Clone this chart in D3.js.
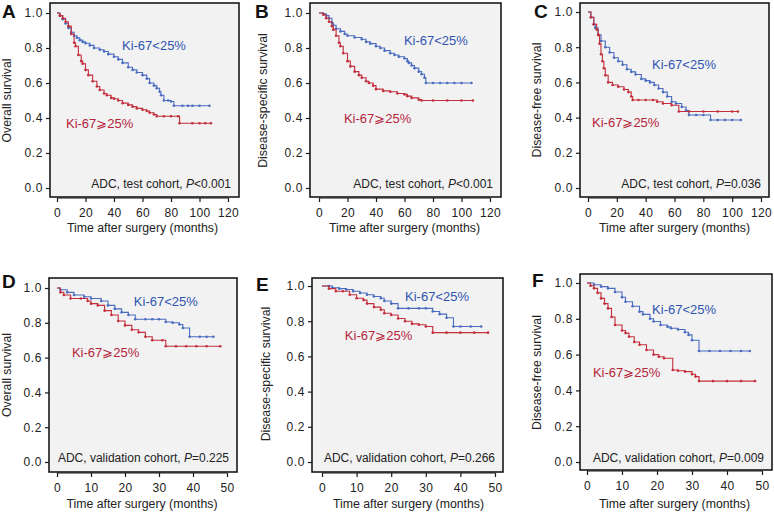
<!DOCTYPE html>
<html><head><meta charset="utf-8">
<script src="https://cdn.jsdelivr.net/npm/d3@7"></script>
<style>
body{margin:0;background:#fff;}
text{font-family:"Liberation Sans",Arial,Helvetica,sans-serif;}
</style></head>
<body><svg id="c" width="774" height="515"></svg>
<script>
// ---------- DATA (time in months, survival probability) ----------
const yTicks = [0, 0.2, 0.4, 0.6, 0.8, 1.0];
const xTicksTest = [0, 20, 40, 60, 80, 100, 120];
const xTicksVal = [0, 10, 20, 30, 40, 50];

const osTestLow = [[0,1],[2,0.985],[4,0.965],[6,0.94],[8,0.915],[10,0.89],[12,0.87],[14,0.858],[16,0.845],[18,0.835],[20,0.827],[23,0.815],[26,0.8],[30,0.79],[33,0.78],[36,0.765],[40,0.75],[43,0.735],[46,0.715],[50,0.69],[53,0.675],[56,0.66],[60,0.645],[63,0.625],[65,0.6],[68,0.585],[70,0.57],[72,0.55],[73,0.53],[75,0.5],[78,0.5],[80,0.494],[82,0.47],[88,0.47],[92,0.47],[95,0.47],[100,0.47],[107,0.47]];
const osTestHigh = [[0,1],[2,0.985],[4,0.97],[6,0.95],[8,0.925],[10,0.88],[12,0.83],[13,0.81],[15,0.76],[17,0.725],[18,0.71],[20,0.675],[22,0.645],[25,0.61],[28,0.58],[30,0.56],[33,0.54],[35,0.53],[38,0.515],[40,0.51],[43,0.5],[46,0.485],[50,0.475],[53,0.465],[56,0.455],[60,0.447],[63,0.44],[65,0.43],[68,0.42],[70,0.41],[75,0.41],[80,0.41],[85,0.41],[86,0.37],[95,0.37],[100,0.37],[104,0.37],[108,0.37]];

const dssTestLow = [[0,1],[3,0.995],[5,0.985],[7,0.97],[9,0.945],[10,0.93],[12,0.91],[15,0.895],[18,0.88],[20,0.87],[25,0.86],[30,0.85],[33,0.835],[36,0.825],[40,0.81],[43,0.8],[46,0.785],[50,0.77],[53,0.76],[56,0.75],[60,0.74],[62,0.725],[63,0.715],[65,0.7],[67,0.685],[70,0.665],[72,0.65],[74,0.63],[75,0.6],[80,0.6],[85,0.6],[90,0.6],[95,0.6],[100,0.6],[107,0.6]];
const dssTestHigh = [[0,1],[3,0.99],[5,0.97],[7,0.95],[9,0.925],[10,0.905],[12,0.87],[14,0.83],[15,0.81],[17,0.77],[20,0.725],[22,0.695],[25,0.665],[28,0.645],[30,0.63],[33,0.61],[35,0.6],[38,0.585],[40,0.565],[45,0.555],[50,0.55],[55,0.54],[60,0.535],[62,0.525],[65,0.515],[70,0.505],[72,0.5],[80,0.5],[90,0.5],[100,0.5],[108,0.5]];

const dfsTestLow = [[0,1],[2,0.97],[4,0.93],[5,0.91],[7,0.87],[9,0.835],[12,0.8],[15,0.77],[18,0.74],[21,0.72],[24,0.7],[27,0.675],[30,0.66],[33,0.645],[37,0.62],[40,0.61],[43,0.6],[46,0.585],[49,0.565],[52,0.545],[55,0.52],[58,0.49],[61,0.48],[65,0.46],[68,0.44],[70,0.415],[75,0.415],[80,0.415],[85,0.386],[90,0.386],[95,0.386],[100,0.386],[106,0.386]];
const dfsTestHigh = [[0,1],[2,0.97],[4,0.93],[6,0.9],[7,0.87],[8,0.82],[9,0.76],[10,0.72],[11,0.68],[12,0.64],[14,0.6],[17,0.585],[21,0.575],[25,0.56],[28,0.545],[30,0.52],[31,0.5],[35,0.5],[40,0.5],[45,0.5],[48,0.49],[52,0.48],[58,0.47],[63,0.435],[70,0.435],[80,0.435],[90,0.435],[100,0.435],[104,0.435]];

const osValLow = [[0,1],[1,0.99],[3,0.975],[5,0.96],[8,0.95],[10,0.94],[13,0.925],[15,0.9],[17,0.88],[19,0.86],[21,0.845],[23,0.82],[26,0.82],[28,0.82],[30,0.82],[32,0.805],[34,0.8],[36,0.79],[37,0.77],[39,0.72],[42,0.72],[44,0.72],[46,0.72]];
const osValHigh = [[0,1],[1,0.975],[2,0.96],[4,0.94],[7,0.94],[9,0.925],[10,0.91],[12,0.9],[14,0.87],[16,0.845],[18,0.81],[20,0.785],[22,0.76],[24,0.745],[26,0.72],[28,0.7],[31,0.7],[32,0.665],[35,0.665],[38,0.665],[41,0.665],[44,0.665],[48,0.665]];

const dssValLow = [[0,1],[2,1],[3,0.99],[5,0.985],[7,0.98],[9,0.97],[11,0.96],[13,0.95],[15,0.94],[17,0.93],[18,0.915],[20,0.9],[22,0.873],[25,0.873],[28,0.873],[30,0.873],[32,0.855],[34,0.84],[36,0.82],[38,0.77],[40,0.77],[43,0.77],[46,0.77]];
const dssValHigh = [[0,1],[2,0.985],[4,0.97],[6,0.97],[8,0.95],[10,0.93],[12,0.92],[13,0.9],[15,0.88],[17,0.865],[18,0.845],[20,0.835],[22,0.815],[24,0.8],[26,0.785],[28,0.78],[30,0.77],[32,0.735],[36,0.735],[40,0.735],[44,0.735],[48,0.735]];

const dfsValLow = [[0,1],[2,0.99],[4,0.98],[6,0.97],[8,0.95],[10,0.92],[11,0.895],[13,0.87],[15,0.84],[16,0.825],[18,0.8],[19,0.785],[21,0.765],[23,0.755],[24,0.747],[26,0.74],[28,0.725],[29,0.71],[30,0.68],[32,0.62],[35,0.62],[38,0.62],[41,0.62],[44,0.62],[46.5,0.62]];
const dfsValHigh = [[0,1],[1,0.985],[2,0.97],[3,0.945],[4,0.914],[5,0.885],[6,0.858],[7,0.81],[8,0.765],[10,0.735],[11,0.72],[12,0.7],[13.5,0.67],[15,0.655],[17,0.626],[19,0.6],[20.5,0.588],[22,0.58],[24.5,0.514],[26,0.51],[28,0.505],[30,0.49],[31,0.477],[32,0.452],[36,0.452],[40,0.452],[44,0.452],[48,0.452]];

const panelLetters = ["A","B","C","D","E","F"];
const yTitles = ["Overall survival","Disease-specific survival","Disease-free survival","Overall survival","Disease-specific survival","Disease-free survival"];
const cohortNotes = [["ADC, test cohort, ","<0.001"],["ADC, test cohort, ","<0.001"],["ADC, test cohort, ","=0.036"],["ADC, validation cohort, ","=0.225"],["ADC, validation cohort, ","=0.266"],["ADC, validation cohort, ","=0.009"]];
const lowLabel = "Ki-67<25%";
const highLabel = "Ki-67\u2A7E25%";
const xTitle = "Time after surgery (months)";

// ---------- LAYOUT ----------
const BLUE = "#4a6cc0", RED = "#c32f3c", BLUE_T = "#2f55b0", RED_T = "#b5243a";
const panels = [
  {box:[50,3,239,197], x:[57,228], y:[188,13], xmax:120, ticks:xTicksTest, low:osTestLow, high:osTestHigh, lowAt:[45.6,0.817], highAt:[6.3,0.371], letterX:2, letterY:18, titleX:7},
  {box:[310,3,501,197], x:[319,490], y:[188,13], xmax:120, ticks:xTicksTest, low:dssTestLow, high:dssTestHigh, lowAt:[59.6,0.846], highAt:[17.5,0.40], letterX:255, letterY:18, titleX:263},
  {box:[580,3,769,197], x:[588,761], y:[188,12], xmax:120, ticks:xTicksTest, low:dfsTestLow, high:dfsTestHigh, lowAt:[44.4,0.70], highAt:[2.8,0.375], letterX:534, letterY:18, titleX:537},
  {box:[49,278,237,472], x:[57,227], y:[462,288], xmax:50, ticks:xTicksVal, low:osValLow, high:osValHigh, lowAt:[22.6,0.925], highAt:[4.4,0.632], letterX:2, letterY:288, titleX:7},
  {box:[312,278,503,472], x:[322,495], y:[462,286], xmax:50, ticks:xTicksVal, low:dssValLow, high:dssValHigh, lowAt:[24,0.943], highAt:[6.6,0.72], letterX:256, letterY:291, titleX:266},
  {box:[580,274,772,470], x:[587,762], y:[462,283], xmax:50, ticks:xTicksVal, low:dfsValLow, high:dfsValHigh, lowAt:[18.6,0.85], highAt:[1.7,0.50], letterX:532, letterY:287, titleX:537}
];

const svg = d3.select("#c");

panels.forEach((p,i)=>{
  const g = svg.append("g");
  const xs = d3.scaleLinear().domain([0,p.xmax]).range(p.x);
  const ys = d3.scaleLinear().domain([0,1]).range(p.y);
  const [bx0,by0,bx1,by1] = p.box;

  g.append("rect").attr("x",bx0).attr("y",by0).attr("width",bx1-bx0).attr("height",by1-by0)
    .attr("fill","#f2f2f2").attr("stroke","#1a1a1a").attr("stroke-width",1.6);

  // y axis
  const ya = g.append("g").attr("transform",`translate(${bx0},0)`)
    .call(d3.axisLeft(ys).tickValues(yTicks).tickFormat(d3.format(".1f")).tickSize(4).tickPadding(3));
  ya.select(".domain").remove();
  ya.selectAll("line").attr("stroke","#1a1a1a").attr("stroke-width",1.2);
  ya.selectAll("text").attr("font-size",12).attr("fill","#222").attr("font-family","Liberation Sans, Arial, sans-serif").style("letter-spacing","0.6px");

  // x axis
  const xa = g.append("g").attr("transform",`translate(0,${by1+1})`)
    .call(d3.axisBottom(xs).tickValues(p.ticks).tickSize(4).tickPadding(6));
  xa.select(".domain").attr("stroke","#1a1a1a").attr("stroke-width",1.2).attr("d",`M${xs(0)},0H${xs(p.xmax)}`);
  xa.selectAll("line").attr("stroke","#1a1a1a").attr("stroke-width",1.2);
  xa.selectAll("text").attr("font-size",12).attr("fill","#222").attr("font-family","Liberation Sans, Arial, sans-serif").style("letter-spacing","0.4px");

  // titles
  g.append("text").attr("x",(p.x[0]+p.x[1])/2).attr("y", i<3 ? 232 : 508)
    .attr("text-anchor","middle").attr("font-size",12.3).attr("fill","#222").text(xTitle);
  const ty = (p.y[0]+p.y[1])/2;
  g.append("text").attr("transform",`translate(${p.titleX},${ty}) rotate(-90)`)
    .attr("text-anchor","middle").attr("dy","0.35em").attr("font-size",12.3).attr("fill","#222").text(yTitles[i]);
  g.append("text").attr("x",p.letterX).attr("y",p.letterY).attr("font-size",19).attr("font-weight","bold").attr("fill","#111").text(panelLetters[i]);

  // curves
  const line = d3.line().x(d=>xs(d[0])).y(d=>ys(d[1])).curve(d3.curveStepAfter);
  [[p.low,BLUE],[p.high,RED]].forEach(([data,col])=>{
    g.append("path").datum(data).attr("d",line).attr("fill","none").attr("stroke",col).attr("stroke-width",1.1);
    g.selectAll(null).data(data.slice(1)).enter().append("circle")
      .attr("cx",d=>xs(d[0])).attr("cy",d=>ys(d[1])).attr("r",1.3).attr("fill",col);
  });

  // labels
  g.append("text").attr("x",xs(p.lowAt[0])).attr("y",ys(p.lowAt[1])).attr("dy","0.35em")
    .attr("font-size",13).attr("fill",BLUE_T).text(lowLabel);
  g.append("text").attr("x",xs(p.highAt[0])).attr("y",ys(p.highAt[1])).attr("dy","0.35em")
    .attr("font-size",13).attr("fill",RED_T).text(highLabel);

  // note
  const note = g.append("text").attr("x",bx1-8).attr("y",ys(0)-4).attr("dy","0.35em")
    .attr("text-anchor","end").attr("font-size",12).attr("fill","#222");
  note.append("tspan").text(cohortNotes[i][0]);
  note.append("tspan").attr("font-style","italic").text("P");
  note.append("tspan").text(cohortNotes[i][1]);
});
</script></body></html>
